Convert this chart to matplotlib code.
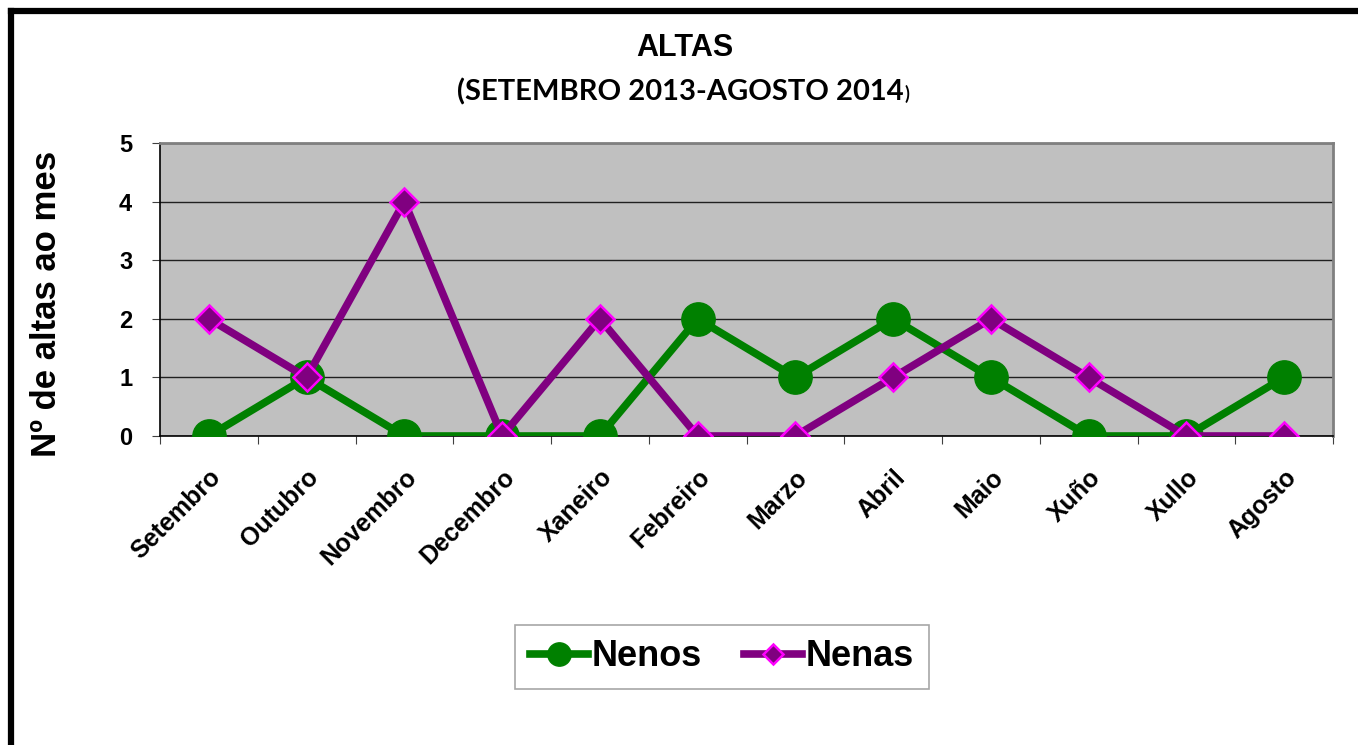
import matplotlib
matplotlib.use("Agg")
import matplotlib.pyplot as plt
from matplotlib.lines import Line2D

months = ["Setembro", "Outubro", "Novembro", "Decembro", "Xaneiro", "Febreiro",
          "Marzo", "Abril", "Maio", "Xuño", "Xullo", "Agosto"]
nenos = [0, 1, 0, 0, 0, 2, 1, 2, 1, 0, 0, 1]
nenas = [2, 1, 4, 0, 2, 0, 0, 1, 2, 1, 0, 0]
yticks = [0, 1, 2, 3, 4, 5]

plt.rcParams["font.family"] = ["Liberation Sans", "DejaVu Sans"]
plt.rcParams["font.weight"] = "bold"

fig = plt.figure(figsize=(13.58, 7.45), dpi=100)
ax = fig.add_axes([160 / 1358, 1 - 436 / 745, 1173 / 1358, 293 / 745])
ax.set_facecolor("#C0C0C0")

x = list(range(len(months)))
ax.plot(x, nenos, color="#008000", lw=5.5, marker="o", ms=24,
        mfc="#008000", mec="#008000", label="Nenos", zorder=3)
ax.plot(x, nenas, color="#800080", lw=5.5, marker="D", ms=14,
        mfc="#800080", mec="#FF00FF", mew=1.8, label="Nenas", zorder=4)

ax.set_xlim(-0.5, len(months) - 0.5)
ax.set_ylim(0, 5)
ax.set_yticks(yticks)
ax.set_yticklabels([str(v) for v in yticks], fontsize=17, fontweight="bold")
ax.set_xticks([i - 0.5 for i in range(len(months) + 1)])
ax.set_xticklabels([])
ax.set_xticks(x, minor=True)
ax.set_xticklabels(months, minor=True, rotation=45, ha="right", va="top",
                   rotation_mode="anchor", fontsize=18, fontweight="bold")
ax.tick_params(axis="x", which="minor", length=0, pad=21)
ax.tick_params(axis="x", which="major", length=6, direction="out", color="#404040")
ax.tick_params(axis="y", length=6, direction="out", color="#404040", pad=14)
ax.grid(axis="y", color="#202020", lw=1)
ax.set_axisbelow(True)
for side in ["top", "right"]:
    ax.spines[side].set_color("#808080")
    ax.spines[side].set_linewidth(2)
for side in ["left", "bottom"]:
    ax.spines[side].set_color("black")
    ax.spines[side].set_linewidth(1.2)

ax.set_ylabel("Nº de altas ao mes", fontsize=25, fontweight="bold", va="center")
ax.yaxis.set_label_coords((47 - 160) / 1173, (436 - 304) / 293)

fig.text(685 / 1358, 1 - 48 / 745, "ALTAS", ha="center", va="center",
         fontsize=22, fontweight="bold")
sub = fig.text(680 / 1358, 1 - 92 / 745, "(SETEMBRO 2013-AGOSTO 2014", ha="center",
               va="center", fontsize=21, fontweight="bold",
               family=["Lato", "DejaVu Sans"])
fig.canvas.draw()
bb = sub.get_window_extent()
fig.text(bb.x1 / 1358 + 0.001, bb.y0 / 745 + 0.004, ")", ha="left", va="bottom",
         fontsize=13, fontweight="bold", family=["Lato", "DejaVu Sans"])

leg = fig.legend(loc="center", bbox_to_anchor=(722 / 1358, 1 - 657 / 745),
                 ncol=2, frameon=True, fancybox=False, markerscale=0.7,
                 handlelength=1.6, handletextpad=0.12, columnspacing=1.15,
                 borderpad=0.4, prop={"weight": "bold", "size": 26})
leg.get_frame().set_edgecolor("#909090")
leg.get_frame().set_linewidth(1.2)

# outer black frame (continues past right and bottom edges)
fig.add_artist(Line2D([11 / 1358, 11 / 1358], [0, 1 - 11 / 745], color="black",
                      lw=4.5, transform=fig.transFigure))
fig.add_artist(Line2D([11 / 1358, 1], [1 - 11 / 745, 1 - 11 / 745], color="black",
                      lw=4.5, transform=fig.transFigure))

fig.savefig("out.png", dpi=100)
